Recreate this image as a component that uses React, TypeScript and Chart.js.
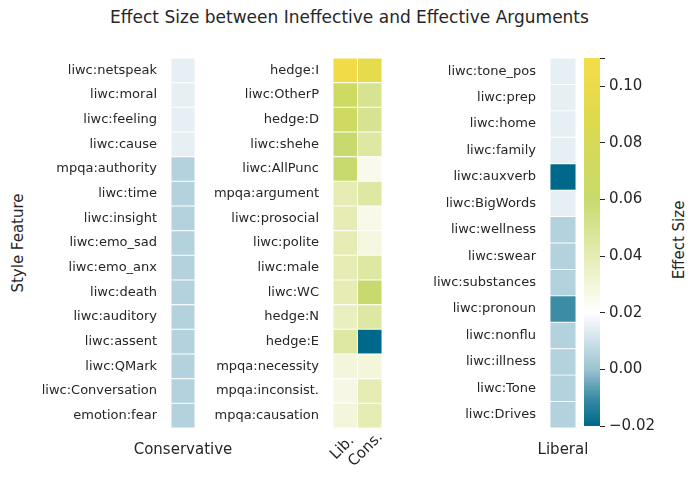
import React, { useEffect, useRef } from 'react';
import Chart from 'chart.js/auto';

const consRows = ['liwc:netspeak', 'liwc:moral', 'liwc:feeling', 'liwc:cause', 'mpqa:authority', 'liwc:time', 'liwc:insight', 'liwc:emo_sad', 'liwc:emo_anx', 'liwc:death', 'liwc:auditory', 'liwc:assent', 'liwc:QMark', 'liwc:Conversation', 'emotion:fear'];
const consVals = [0.015, 0.015, 0.015, 0.015, 0.005, 0.005, 0.005, 0.005, 0.005, 0.005, 0.005, 0.005, 0.005, 0.005, 0.005];

const bothRows = ['hedge:I', 'liwc:OtherP', 'hedge:D', 'liwc:shehe', 'liwc:AllPunc', 'mpqa:argument', 'liwc:prosocial', 'liwc:polite', 'liwc:male', 'liwc:WC', 'hedge:N', 'hedge:E', 'mpqa:necessity', 'mpqa:inconsist.', 'mpqa:causation'];
const bothLib = [0.105, 0.07, 0.07, 0.06, 0.06, 0.04, 0.04, 0.04, 0.04, 0.04, 0.037, 0.045, 0.03, 0.027, 0.03];
const bothCons = [0.095, 0.05, 0.05, 0.045, 0.025, 0.045, 0.026, 0.028, 0.045, 0.06, 0.045, -0.02, 0.03, 0.04, 0.04];

const libRows = ['liwc:tone_pos', 'liwc:prep', 'liwc:home', 'liwc:family', 'liwc:auxverb', 'liwc:BigWords', 'liwc:wellness', 'liwc:swear', 'liwc:substances', 'liwc:pronoun', 'liwc:nonflu', 'liwc:illness', 'liwc:Tone', 'liwc:Drives'];
const libVals = [0.015, 0.015, 0.015, 0.015, -0.02, 0.015, 0.005, 0.005, 0.005, -0.01, 0.005, 0.005, 0.005, 0.005];

const vMin = -0.02;
const vMax = 0.11;

const stops: [number, number[]][] = [
  [-0.02, [0, 104, 139]],
  [-0.01, [60, 140, 165]],
  [0.0, [155, 195, 210]],
  [0.02, [255, 255, 255]],
  [0.04, [230, 236, 180]],
  [0.06, [200, 218, 110]],
  [0.085, [218, 218, 80]],
  [0.11, [247, 220, 70]],
];

function colorFor(v: number) {
  if (v <= stops[0][0]) return `rgb(${stops[0][1].join(',')})`;
  for (let i = 1; i < stops.length; i++) {
    if (v <= stops[i][0]) {
      const [a, ca] = stops[i - 1];
      const [b, cb] = stops[i];
      const t = (v - a) / (b - a);
      const c = ca.map((x, k) => Math.round(x + (cb[k] - x) * t));
      return `rgb(${c.join(',')})`;
    }
  }
  return `rgb(${stops[stops.length - 1][1].join(',')})`;
}

const FONT = 'DejaVu Sans';
const PAD = 14;

function Heat({ rows, cols, left, labelW, cellW }: { rows: string[]; cols: number[][]; left: number; labelW: number; cellW: number }) {
  const ref = useRef<HTMLCanvasElement>(null);
  const h = 370 + PAD * 2;
  useEffect(() => {
    if (!ref.current) return;
    const chart = new Chart(ref.current, {
      type: 'bar',
      data: {
        labels: rows,
        datasets: cols.map((vals, c) => ({
          data: rows.map(() => [c, c + 1]) as any,
          backgroundColor: vals.map(colorFor),
          borderColor: '#ffffff',
          borderWidth: 0.8,
          borderSkipped: false,
          barPercentage: 1,
          categoryPercentage: 1,
          grouped: false,
        })),
      },
      options: {
        indexAxis: 'y',
        animation: false,
        responsive: false,
        maintainAspectRatio: false,
        layout: { padding: { top: PAD, bottom: PAD, left: 0, right: 0 } },
        plugins: { legend: { display: false }, tooltip: { enabled: false } },
        scales: {
          x: { type: 'linear', min: 0, max: cols.length, display: false },
          y: {
            grid: { display: false },
            border: { display: false },
            ticks: { color: '#262626', font: { family: FONT, size: 13 }, padding: 6 },
            afterFit: (s: any) => { s.width = labelW; },
          },
        },
      },
    });
    return () => chart.destroy();
  }, []);
  return <canvas ref={ref} width={labelW + cellW} height={h} style={{ position: 'absolute', left, top: 58 - PAD, width: labelW + cellW, height: h }} />;
}

function ColorBar() {
  const ref = useRef<HTMLCanvasElement>(null);
  useEffect(() => {
    if (!ref.current) return;
    const chart = new Chart(ref.current, {
      type: 'bar',
      data: {
        labels: [''],
        datasets: [{
          data: [[vMin, vMax]] as any,
          barPercentage: 1,
          categoryPercentage: 1,
          backgroundColor: (ctx: any) => {
            const { chart } = ctx;
            const area = chart.chartArea;
            if (!area) return '#fff';
            const g = chart.ctx.createLinearGradient(0, area.bottom, 0, area.top);
            stops.forEach(([v, c]) => g.addColorStop((v - vMin) / (vMax - vMin), `rgb(${c.join(',')})`));
            return g;
          },
        }],
      },
      options: {
        animation: false,
        responsive: false,
        layout: { padding: { top: 18, bottom: 14, left: 0, right: 0 } },
        plugins: { legend: { display: false }, tooltip: { enabled: false } },
        scales: {
          x: { display: false },
          y: {
            position: 'right',
            min: vMin,
            max: vMax,
            grid: { drawOnChartArea: false, drawTicks: true, tickLength: 5, color: '#262626' },
            border: { display: false },
            ticks: {
              stepSize: 0.02,
              color: '#262626',
              font: { family: FONT, size: 15 },
              padding: 4,
              callback: (v: any) => {
                const n = Number(v);
                if (n > 0.105) return '';
                return n < 0 ? '\u2212' + Math.abs(n).toFixed(2) : n.toFixed(2);
              },
            },
            afterFit: (s: any) => { s.width = 70; },
          },
        },
      },
    });
    return () => chart.destroy();
  }, []);
  return <canvas ref={ref} width={86} height={400} style={{ position: 'absolute', left: 584, top: 40, width: 86, height: 400 }} />;
}

const txt: React.CSSProperties = { position: 'absolute', fontFamily: FONT, color: '#262626', whiteSpace: 'nowrap' };

export default function App() {
  return (
    <div style={{ position: 'fixed', left: 0, top: 0, width: 699, height: 494, background: '#fff', overflow: 'hidden' }}>
      <div style={{ ...txt, left: 0, width: 699, top: 7, textAlign: 'center', fontSize: 17 }}>Effect Size between Ineffective and Effective Arguments</div>
      <div style={{ ...txt, left: 18, top: 243, fontSize: 15, transform: 'translate(-50%,-50%) rotate(-90deg)' }}>Style Feature</div>
      <div style={{ ...txt, left: 679, top: 240, fontSize: 15, transform: 'translate(-50%,-50%) rotate(-90deg)' }}>Effect Size</div>
      <Heat rows={consRows} cols={[consVals]} left={0} labelW={171} cellW={24} />
      <Heat rows={bothRows} cols={[bothLib, bothCons]} left={190} labelW={143} cellW={49} />
      <Heat rows={libRows} cols={[libVals]} left={420} labelW={130} cellW={26} />
      <ColorBar />
      <div style={{ ...txt, left: 183, top: 440, fontSize: 15, transform: 'translateX(-50%)' }}>Conservative</div>
      <div style={{ ...txt, left: 563, top: 440, fontSize: 15, transform: 'translateX(-50%)' }}>Liberal</div>
      <div style={{ ...txt, left: 320, top: 436, fontSize: 15, transform: 'rotate(-45deg)', transformOrigin: 'right top', width: 20, textAlign: 'right' }}>Lib.</div>
      <div style={{ ...txt, left: 335, top: 436, fontSize: 15, transform: 'rotate(-45deg)', transformOrigin: 'right top', width: 30, textAlign: 'right' }}>Cons.</div>
    </div>
  );
}
